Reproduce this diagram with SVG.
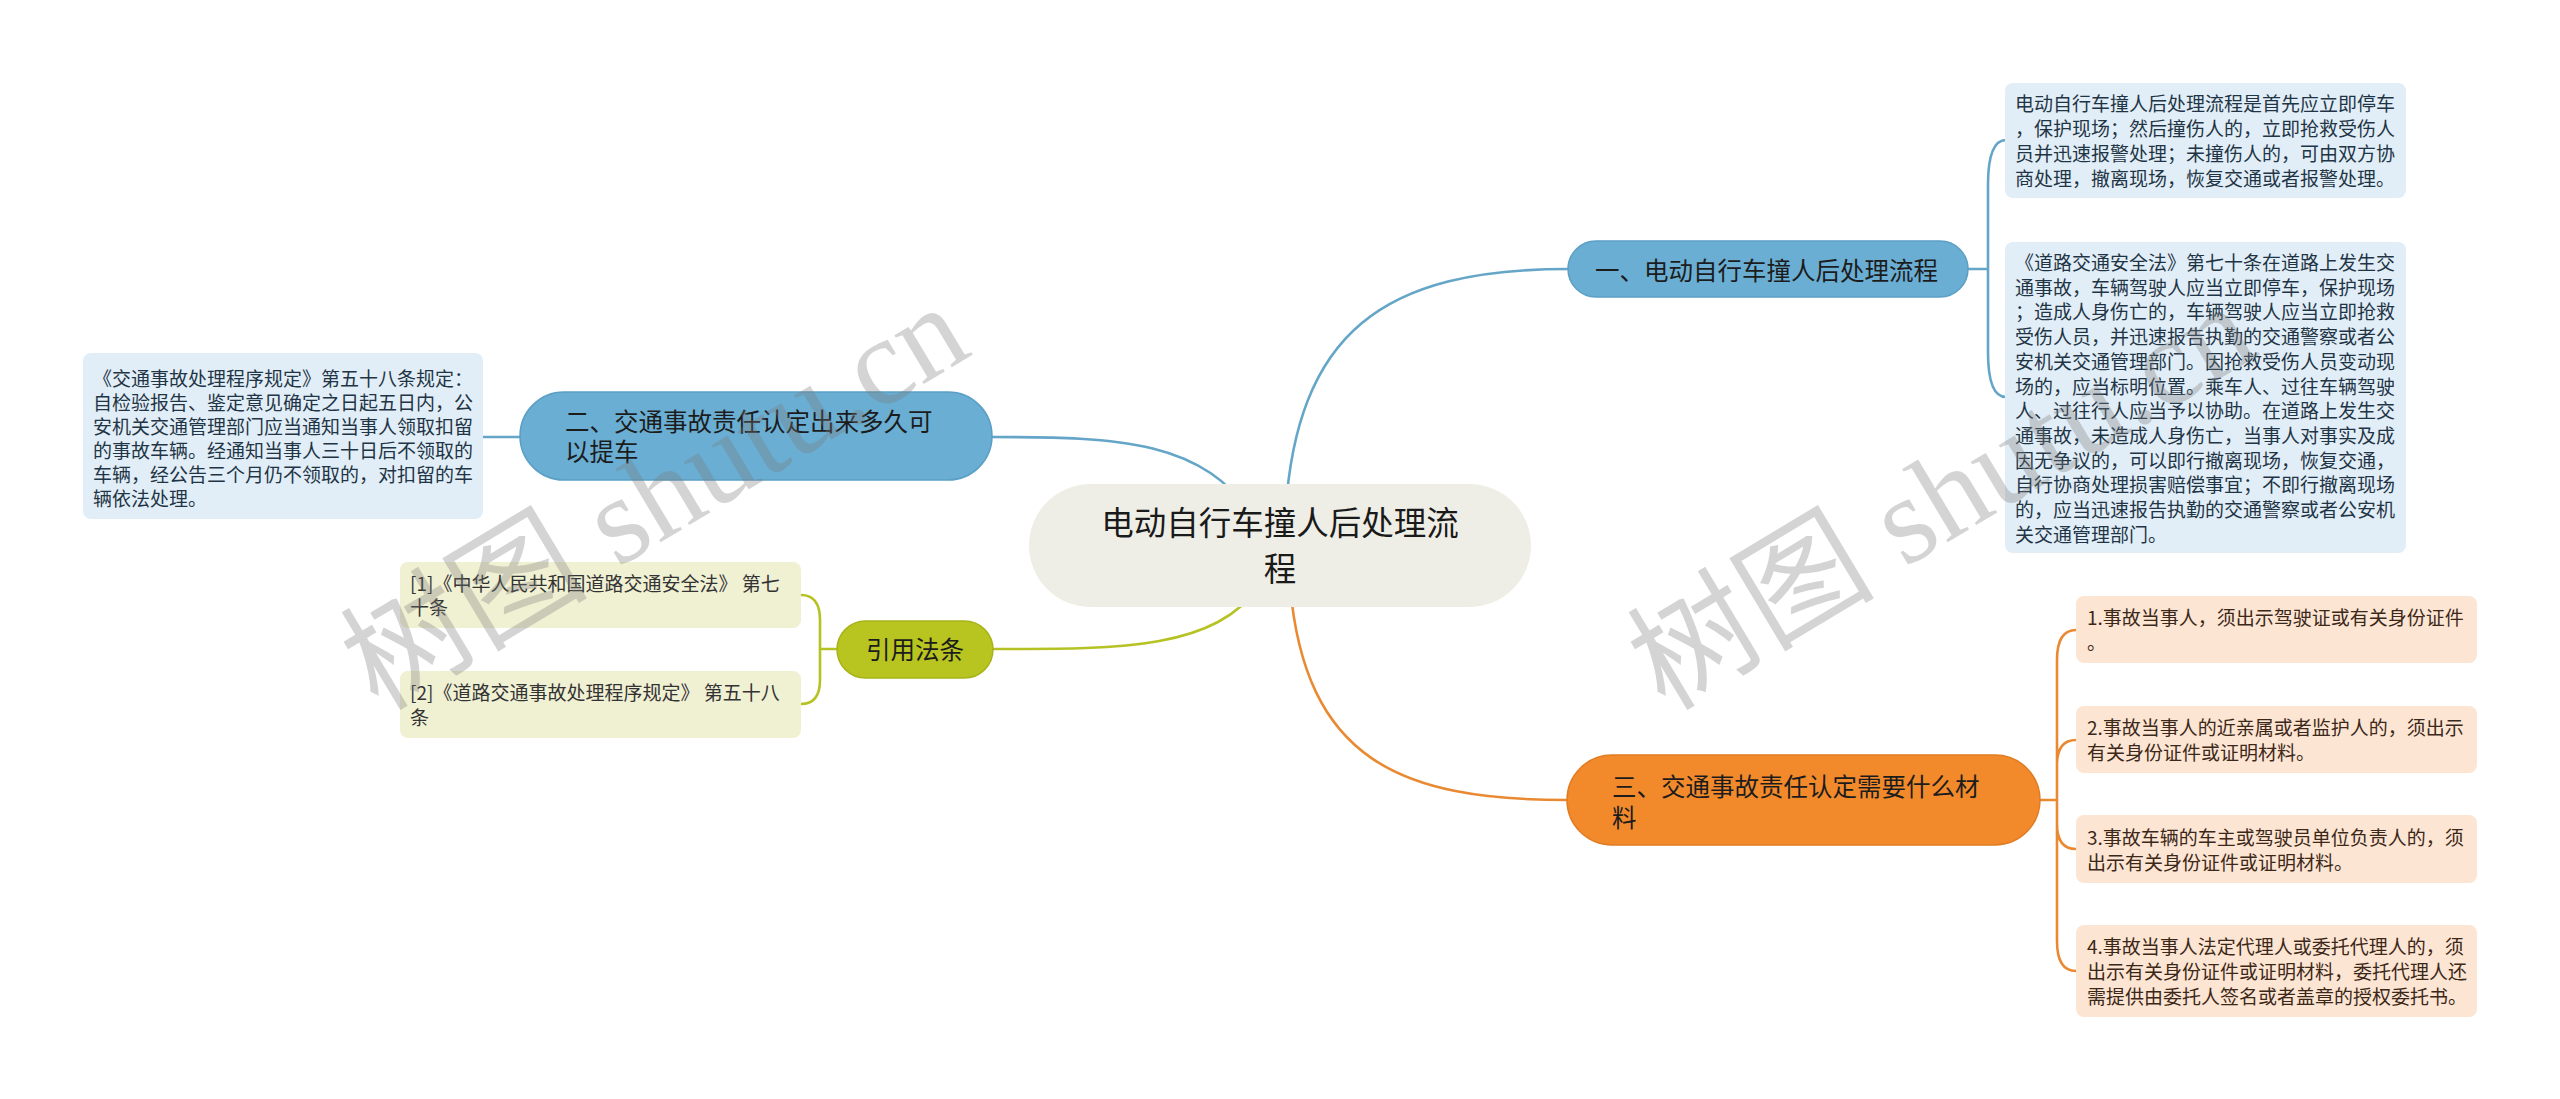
<svg xmlns="http://www.w3.org/2000/svg" width="2560" height="1099" viewBox="0 0 2560 1099">
<style>
text{font-family:"Noto Sans CJK SC","Liberation Sans",sans-serif}
.conn{fill:none;stroke-width:2.6;stroke-linecap:round}
.cb{stroke:#64a5c8}
.co{stroke:#b6c224}
.cr{stroke:#e98a33}
.leaf{font-size:19px}
.lb{fill:#e2eef7}
.lo{fill:#f0f0d3}
.lr{fill:#fce5d3}
.tb{fill:#1f3546}
.to{fill:#333333}
.tr{fill:#3c2818}
.node{font-size:24.5px;fill:#1c1c1c}
.wm{font-size:124px;fill:#7a7a7a;fill-opacity:0.32;font-family:"Liberation Serif","Noto Sans CJK SC",serif}
</style>
<rect width="2560" height="1099" fill="#ffffff"/>
<g id="connectors">
<path class="conn cb" d="M1285 520 C1295 330 1385 269 1568 269"/>
<path class="conn cb" d="M1255 520 C1205 440 1120 437 992 437"/>
<path class="conn co" d="M1260 585 C1215 650 1120 649 993 649"/>
<path class="conn cr" d="M1290 585 C1305 760 1400 800 1567 800"/>
<path class="conn cb" d="M1968 269 H1988 M1988 269 V185 Q1988 140 2006 140 M1988 269 V352 Q1988 397 2006 397"/>
<path class="conn cb" d="M520 437 H483"/>
<path class="conn co" d="M837 649 H820 M820 649 V620 Q820 595 801 595 M820 649 V680 Q820 704 801 704"/>
<path class="conn cr" d="M2040 800 H2057 M2057 800 V660 Q2057 630 2076 630 M2057 800 V765 Q2057 740 2076 740 M2057 800 V824 Q2057 849 2076 849 M2057 800 V941 Q2057 971 2076 971"/>
</g>
<g id="center">
<rect x="1029" y="484" width="502" height="123" rx="61.5" fill="#efeee6"/>
<text x="1280" y="535" font-size="32.5" text-anchor="middle" fill="#1a1a1a">电动自行车撞人后处理流</text>
<text x="1280" y="581" font-size="32.5" text-anchor="middle" fill="#1a1a1a">程</text>
</g>
<g id="n1">
<rect x="1568" y="241" width="400" height="56" rx="28" fill="#6aaed3" stroke="#5b9fc5" stroke-width="1.5"/>
<text class="node" x="1595" y="280">一、电动自行车撞人后处理流程</text>
</g>
<g id="n1a">
<rect class="lb" x="2005" y="83" width="401" height="115" rx="8"/>
<text class="leaf tb" x="2015" y="111">
<tspan x="2015">电动自行车撞人后处理流程是首先应立即停车</tspan>
<tspan x="2015" dy="25">，保护现场；然后撞伤人的，立即抢救受伤人</tspan>
<tspan x="2015" dy="25">员并迅速报警处理；未撞伤人的，可由双方协</tspan>
<tspan x="2015" dy="25">商处理，撤离现场，恢复交通或者报警处理。</tspan>
</text>
</g>
<g id="n1b">
<rect class="lb" x="2005" y="242" width="401" height="311" rx="8"/>
<text class="leaf tb" x="2015" y="270">
<tspan x="2015">《道路交通安全法》第七十条在道路上发生交</tspan>
<tspan x="2015" dy="24.7">通事故，车辆驾驶人应当立即停车，保护现场</tspan>
<tspan x="2015" dy="24.7">；造成人身伤亡的，车辆驾驶人应当立即抢救</tspan>
<tspan x="2015" dy="24.7">受伤人员，并迅速报告执勤的交通警察或者公</tspan>
<tspan x="2015" dy="24.7">安机关交通管理部门。因抢救受伤人员变动现</tspan>
<tspan x="2015" dy="24.7">场的，应当标明位置。乘车人、过往车辆驾驶</tspan>
<tspan x="2015" dy="24.7">人、过往行人应当予以协助。在道路上发生交</tspan>
<tspan x="2015" dy="24.7">通事故，未造成人身伤亡，当事人对事实及成</tspan>
<tspan x="2015" dy="24.7">因无争议的，可以即行撤离现场，恢复交通，</tspan>
<tspan x="2015" dy="24.7">自行协商处理损害赔偿事宜；不即行撤离现场</tspan>
<tspan x="2015" dy="24.7">的，应当迅速报告执勤的交通警察或者公安机</tspan>
<tspan x="2015" dy="24.7">关交通管理部门。</tspan>
</text>
</g>
<g id="n2">
<rect x="520" y="392" width="472" height="88" rx="44" fill="#6aaed3" stroke="#5b9fc5" stroke-width="1.5"/>
<text class="node" x="565" y="431">二、交通事故责任认定出来多久可</text>
<text class="node" x="565" y="461">以提车</text>
</g>
<g id="n2a">
<rect class="lb" x="83" y="353" width="400" height="166" rx="8"/>
<text class="leaf tb" x="93" y="386">
<tspan x="93">《交通事故处理程序规定》第五十八条规定：</tspan>
<tspan x="93" dy="24">自检验报告、鉴定意见确定之日起五日内，公</tspan>
<tspan x="93" dy="24">安机关交通管理部门应当通知当事人领取扣留</tspan>
<tspan x="93" dy="24">的事故车辆。经通知当事人三十日后不领取的</tspan>
<tspan x="93" dy="24">车辆，经公告三个月仍不领取的，对扣留的车</tspan>
<tspan x="93" dy="24">辆依法处理。</tspan>
</text>
</g>
<g id="n3">
<rect x="837" y="621" width="156" height="57" rx="28.5" fill="#b8c41f" stroke="#a8b41a" stroke-width="1.5"/>
<text class="node" x="915" y="659" text-anchor="middle">引用法条</text>
</g>
<g id="n3a">
<rect class="lo" x="400" y="562" width="401" height="66" rx="8"/>
<text class="leaf to" x="410" y="591">
<tspan x="410">[1]《中华人民共和国道路交通安全法》 第七</tspan>
<tspan x="410" dy="24">十条</tspan>
</text>
</g>
<g id="n3b">
<rect class="lo" x="400" y="671" width="401" height="67" rx="8"/>
<text class="leaf to" x="410" y="700">
<tspan x="410">[2]《道路交通事故处理程序规定》 第五十八</tspan>
<tspan x="410" dy="25">条</tspan>
</text>
</g>
<g id="n4">
<rect x="1567" y="755" width="473" height="90" rx="45" fill="#f28a2c" stroke="#e07c22" stroke-width="1.5"/>
<text class="node" x="1612" y="796">三、交通事故责任认定需要什么材</text>
<text class="node" x="1612" y="827">料</text>
</g>
<g id="n4a">
<rect class="lr" x="2076" y="596" width="401" height="67" rx="8"/>
<text class="leaf tr" x="2087" y="625">
<tspan x="2087">1.事故当事人，须出示驾驶证或有关身份证件</tspan>
<tspan x="2087" dy="25">。</tspan>
</text>
</g>
<g id="n4b">
<rect class="lr" x="2076" y="706" width="401" height="67" rx="8"/>
<text class="leaf tr" x="2087" y="735">
<tspan x="2087">2.事故当事人的近亲属或者监护人的，须出示</tspan>
<tspan x="2087" dy="25">有关身份证件或证明材料。</tspan>
</text>
</g>
<g id="n4c">
<rect class="lr" x="2076" y="815" width="401" height="68" rx="8"/>
<text class="leaf tr" x="2087" y="845">
<tspan x="2087">3.事故车辆的车主或驾驶员单位负责人的，须</tspan>
<tspan x="2087" dy="25">出示有关身份证件或证明材料。</tspan>
</text>
</g>
<g id="n4d">
<rect class="lr" x="2076" y="925" width="401" height="92" rx="8"/>
<text class="leaf tr" x="2087" y="954">
<tspan x="2087">4.事故当事人法定代理人或委托代理人的，须</tspan>
<tspan x="2087" dy="25">出示有关身份证件或证明材料，委托代理人还</tspan>
<tspan x="2087" dy="25">需提供由委托人签名或者盖章的授权委托书。</tspan>
</text>
</g>
<g id="watermarks">
<text class="wm" transform="translate(378 712) rotate(-31)">树图 shutu.cn</text>
<text class="wm" transform="translate(1665 712) rotate(-31)">树图 shutu.cn</text>
</g>
</svg>
